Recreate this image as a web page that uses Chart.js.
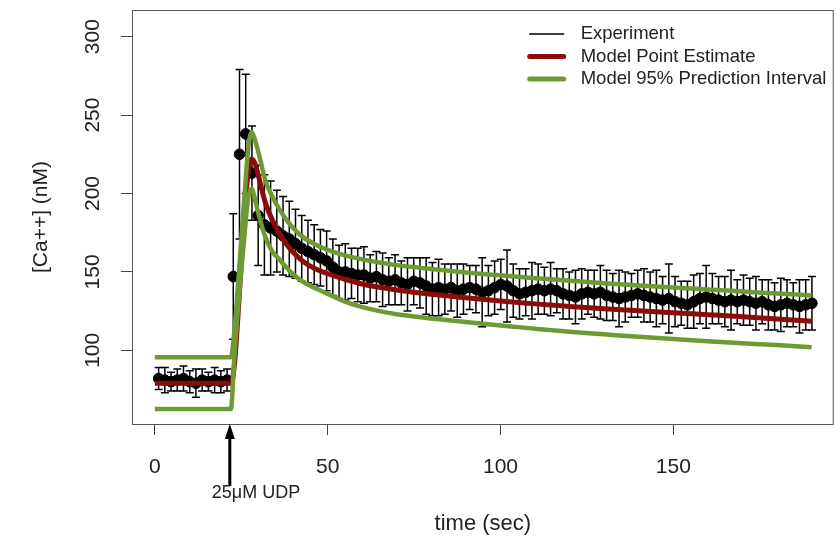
<!DOCTYPE html>
<html>
<head>
<meta charset="utf-8">
<script src="https://cdn.jsdelivr.net/npm/chart.js@4"></script>
<style>
body { margin: 0; background: #fff; }
</style>
</head>
<body>
<canvas id="grafico" width="840" height="539"></canvas>
<script>
// experiment (mean +/- sd)
var expTime = [1.1, 2.9, 4.7, 6.5, 8.3, 10.1, 11.9, 13.7, 15.5, 17.3, 19.1, 20.9,
    22.7, 24.5, 26.3, 28.1, 29.9, 31.7, 33.5, 35.3, 37.1, 38.9, 40.7, 42.5, 44.3, 46.1, 47.9,
    49.7, 51.5, 53.3, 55.1, 56.9, 58.7, 60.5, 62.3, 64.1, 65.9, 67.7, 69.5, 71.3, 73.1, 74.9,
    76.7, 78.5, 80.3, 82.1, 83.9, 85.7, 87.5, 89.3, 91.1, 92.9, 94.7, 96.5, 98.3, 100.1, 101.9,
    103.7, 105.5, 107.3, 109.1, 110.9, 112.7, 114.5, 116.3, 118.1, 119.9, 121.7, 123.5, 125.3,
    127.1, 128.9, 130.7, 132.5, 134.3, 136.1, 137.9, 139.7, 141.5, 143.3, 145.1, 146.9, 148.7,
    150.5, 152.3, 154.1, 155.9, 157.7, 159.5, 161.3, 163.1, 164.9, 166.7, 168.5, 170.3, 172.1,
    173.9, 175.7, 177.5, 179.3, 181.1, 182.9, 184.7, 186.5, 188.3, 190.1];
var expMean = [82, 81, 80, 81, 82, 80, 79, 81, 80, 81, 80, 81,
    147, 225, 238, 213, 186, 180, 178, 176, 173, 171, 168, 165, 163, 161, 159,
    157, 153, 150, 150, 149, 148, 148, 146, 147, 145, 144, 145, 143, 142, 144,
    143, 141, 139, 140, 139, 140, 138, 139, 140, 139, 137, 138, 140, 142, 141,
    138, 136, 137, 138, 139, 138, 139, 138, 136, 135, 134, 136, 137,
    136, 137, 135, 134, 133, 134, 135, 136, 135, 134, 133, 132, 133,
    131, 130, 129, 131, 133, 134, 133, 132, 131, 132, 131, 132, 131,
    130, 131, 129, 128, 129, 130, 129, 128, 129, 130];
var expSd = [7, 8, 6, 7, 8, 7, 9, 7, 6, 8, 7, 7,
    40, 54, 38, 30, 32, 32, 30, 26, 25, 24, 22, 21, 20, 19, 18,
    19, 18, 17, 18, 16, 17, 18, 15, 16, 17, 15, 16, 14, 17, 15,
    16, 18, 17, 18, 16, 15, 17, 16, 14, 15, 22, 16, 17, 16, 23,
    17, 16, 15, 18, 16, 15, 17, 14, 16, 15, 17, 16, 14,
    15, 17, 16, 15, 18, 16, 14, 15, 17, 16, 18, 15, 22,
    16, 14, 15, 17, 16, 20, 16, 15, 16, 19, 14, 16, 15,
    17, 14, 16, 15, 17, 15, 14, 17, 16, 17];

// model curves
var modelTime = [0, 22, 23, 24, 25, 26, 27, 28, 29, 30, 31, 32, 34, 36, 38, 40, 43, 46, 50,
    55, 60, 65, 70, 80, 90, 100, 110, 120, 130, 140, 150, 160, 170, 180, 190];
var modelEstimate = [79, 79, 90, 120, 155, 190, 213, 222, 219, 211, 202, 194, 183, 174.5, 168, 162.5, 156.5, 152.5, 148.8,
    145.3, 142.3, 140.2, 138.5, 135.7, 133.5, 131.5, 129.6, 128, 126.5, 125.2, 124, 122.7, 121.4, 120, 118.5];
var modelUpper = [95.5, 95.5, 112, 140, 170, 200, 228, 239, 234, 226, 217, 208, 198, 190, 183.5, 178, 172, 168, 164,
    160.5, 158, 156, 154.3, 151.8, 149.6, 147.8, 146, 144.4, 142.8, 141.3, 140, 138.8, 137.5, 136.2, 135];
var modelLower = [62.5, 62.5, 95, 125, 150, 175, 197, 203, 196, 187, 179, 172, 163, 158, 153, 148.5, 143.5, 140, 136,
    131, 127.5, 125, 123, 120.3, 118, 115.8, 113.8, 111.8, 110.2, 108.6, 107.2, 105.8, 104.5, 103.3, 102];

var xTicks = [0, 50, 100, 150];
var yTicks = [100, 150, 200, 250, 300];
var udpTime = 21.7;
var udpLabel = '25μM UDP';

var rojo = '#8c0b0b';
var verde = '#6f9a33';
var fuente = '"Liberation Sans", Arial, sans-serif';

function puntos(xs, ys) {
    return xs.map(function (x, i) { return { x: x, y: ys[i] }; });
}

var errorBars = {
    id: 'errorBars',
    beforeDatasetsDraw: function (chart) {
        var ctx = chart.ctx;
        var xs = chart.scales.x, ys = chart.scales.y;
        ctx.save();
        ctx.strokeStyle = '#000';
        ctx.lineWidth = 1.5;
        expTime.forEach(function (t, i) {
            var px = xs.getPixelForValue(t);
            var top = ys.getPixelForValue(expMean[i] + expSd[i]);
            var bot = ys.getPixelForValue(expMean[i] - expSd[i]);
            ctx.beginPath();
            ctx.moveTo(px, top); ctx.lineTo(px, bot);
            ctx.moveTo(px - 4, top); ctx.lineTo(px + 4, top);
            ctx.moveTo(px - 4, bot); ctx.lineTo(px + 4, bot);
            ctx.stroke();
        });
        ctx.restore();
    }
};

var marco = {
    id: 'marco',
    afterDraw: function (chart) {
        var ctx = chart.ctx, a = chart.chartArea;
        ctx.save();
        ctx.strokeStyle = '#555';
        ctx.lineWidth = 1;
        ctx.strokeRect(a.left + 0.5, a.top + 0.5, a.right - a.left - 1, a.bottom - a.top);

        // legend
        var sets = chart.data.datasets;
        var estilos = [['#000', 1.5], [rojo, 5], [verde, 5]];
        ctx.font = '18.5px ' + fuente;
        ctx.textBaseline = 'middle';
        ctx.fillStyle = '#222';
        estilos.forEach(function (e, i) {
            var y = a.top + 24 + i * 22.5;
            ctx.strokeStyle = e[0];
            ctx.lineWidth = e[1];
            ctx.lineCap = 'round';
            ctx.beginPath();
            ctx.moveTo(a.right - 304, y); ctx.lineTo(a.right - 270, y);
            ctx.stroke();
            ctx.fillText(sets[i].label, a.right - 253, y);
        });

        // UDP arrow
        var px = chart.scales.x.getPixelForValue(udpTime);
        ctx.strokeStyle = '#000';
        ctx.fillStyle = '#000';
        ctx.lineWidth = 3;
        ctx.lineCap = 'butt';
        ctx.beginPath();
        ctx.moveTo(px, a.bottom + 12); ctx.lineTo(px, a.bottom + 62);
        ctx.stroke();
        ctx.beginPath();
        ctx.moveTo(px, a.bottom);
        ctx.lineTo(px - 5, a.bottom + 15);
        ctx.lineTo(px + 5, a.bottom + 15);
        ctx.closePath();
        ctx.fill();
        ctx.font = '18px ' + fuente;
        ctx.textAlign = 'left';
        ctx.fillStyle = '#222';
        ctx.fillText(udpLabel, px - 18, a.bottom + 69);
        ctx.restore();
    }
};

var ctx = document.getElementById('grafico').getContext('2d');
var chart = new Chart(ctx, {
    type: 'scatter',
    data: {
        datasets: [{
            label: 'Experiment',
            data: puntos(expTime, expMean),
            backgroundColor: '#000',
            borderColor: '#000',
            pointRadius: 5.3,
            order: 3
        }, {
            label: 'Model Point Estimate',
            data: puntos(modelTime, modelEstimate),
            showLine: true,
            borderColor: rojo,
            borderWidth: 5,
            pointRadius: 0,
            cubicInterpolationMode: 'monotone',
            order: 2
        }, {
            label: 'Model 95% Prediction Interval',
            data: puntos(modelTime, modelUpper),
            showLine: true,
            borderColor: verde,
            borderWidth: 4.5,
            pointRadius: 0,
            cubicInterpolationMode: 'monotone',
            order: 1
        }, {
            label: 'Model 95% Prediction Interval (lower)',
            data: puntos(modelTime, modelLower),
            showLine: true,
            borderColor: verde,
            borderWidth: 4.5,
            pointRadius: 0,
            cubicInterpolationMode: 'monotone',
            order: 1
        }]
    },
    options: {
        responsive: false,
        animation: false,
        layout: { padding: { left: 0, top: 10, right: 2, bottom: 0 } },
        plugins: {
            legend: { display: false },
            tooltip: { enabled: false }
        },
        scales: {
            x: {
                type: 'linear',
                min: -6.6,
                max: 196.4,
                afterBuildTicks: function (s) { s.ticks = xTicks.map(function (v) { return { value: v }; }); },
                afterFit: function (s) { s.height = 115; s.paddingLeft = 0; s.paddingRight = 0; },
                grid: { drawOnChartArea: false, drawTicks: true, tickLength: 11, color: '#444' },
                border: { display: false },
                ticks: {
                    padding: 20,
                    color: '#222',
                    maxRotation: 0,
                    font: { family: fuente, size: 21 }
                },
                title: {
                    display: true,
                    text: 'time (sec)',
                    color: '#222',
                    font: { family: fuente, size: 22 },
                    padding: { top: 0, bottom: 2 }
                }
            },
            y: {
                min: 53,
                max: 317,
                afterBuildTicks: function (s) { s.ticks = yTicks.map(function (v) { return { value: v }; }); },
                afterFit: function (s) { s.width = 132; s.paddingTop = 0; s.paddingBottom = 0; },
                grid: { drawOnChartArea: false, drawTicks: true, tickLength: 11, color: '#444' },
                border: { display: false },
                ticks: {
                    padding: 10,
                    color: '#222',
                    minRotation: 90,
                    maxRotation: 90,
                    crossAlign: 'center',
                    font: { family: fuente, size: 21 }
                },
                title: {
                    display: true,
                    text: '[Ca++] (nM)',
                    color: '#222',
                    font: { family: fuente, size: 21 },
                    padding: { top: 29, bottom: 0 }
                }
            }
        }
    },
    plugins: [errorBars, marco]
});
</script>
</body>
</html>
